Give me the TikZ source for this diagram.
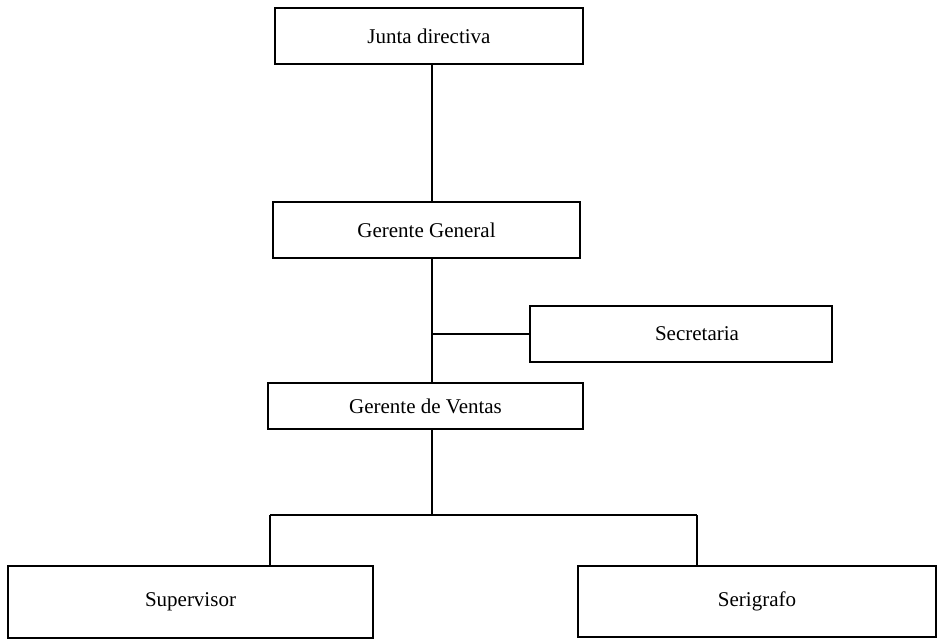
\documentclass[tikz,border=0pt]{standalone}
\usepackage{fontspec}
\setmainfont{Liberation Serif}
\begin{document}
\begin{tikzpicture}[x=1pt,y=-1pt,
  box/.style={draw, line width=1.5pt, rectangle, inner sep=0pt, font=\fontsize{21}{25}\selectfont},
  link/.style={line width=1.5pt}]
\useasboundingbox (0,0) rectangle (937,644);
% boxes of the organisation chart
\node[box, minimum width=308pt, minimum height=56pt] (junta) at (429,36) {Junta directiva};
\node[box, minimum width=307pt, minimum height=56pt] (gg) at (426.5,230) {Gerente General};
\node[box, minimum width=302pt, minimum height=56pt] (sec) at (681,334) {\hspace*{32pt}Secretaria};
\node[box, minimum width=315pt, minimum height=46pt] (gv) at (425.5,406) {Gerente de Ventas};
\node[box, minimum width=365pt, minimum height=72pt] (sup) at (190.5,602) {Supervisor};
\node[box, minimum width=358pt, minimum height=71pt] (ser) at (757,601.5) {Serigrafo};
% junction points
\coordinate (split) at (432,515);
\coordinate (lft) at (270,515);
\coordinate (rgt) at (697,515);
% connectors
\draw[link] (junta.south -| split) -- (gg.north -| split);
\draw[link] (gg.south -| split) -- (gv.north -| split);
\draw[link] (sec.west -| split) -- (sec.west);
\draw[link] (gv.south -| split) -- (split);
\draw[link] (lft) -- (rgt);
\draw[link] (lft) -- (sup.north -| lft);
\draw[link] (rgt) -- (ser.north -| rgt);
\end{tikzpicture}
\end{document}
